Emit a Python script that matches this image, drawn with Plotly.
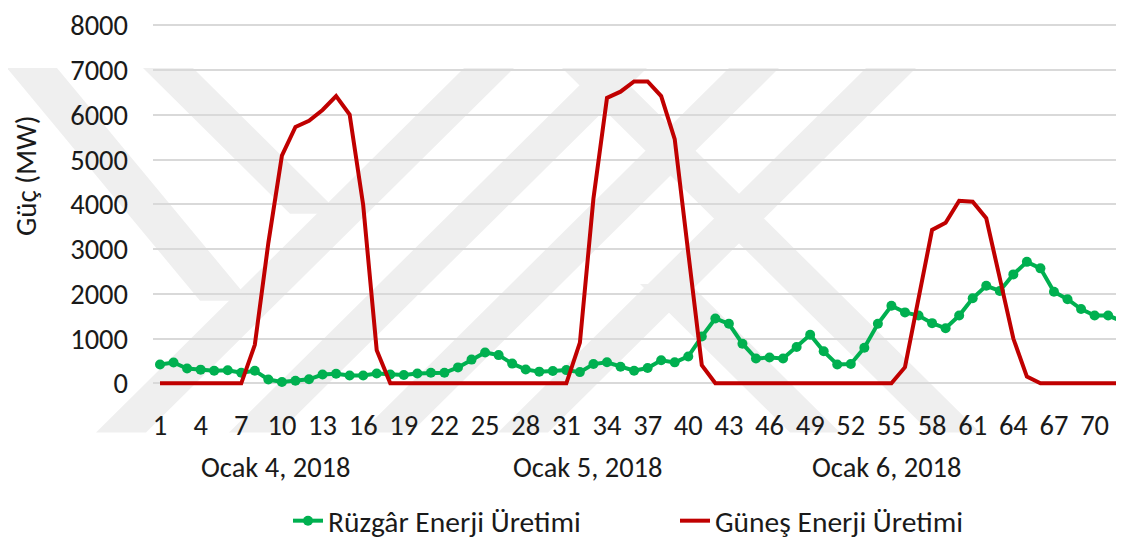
import plotly.graph_objects as go

# ---------------- data ----------------
hours = list(range(1, 73))
wind = [420, 465, 330, 305, 280, 290, 235, 280, 85, 30, 55, 90,
        195, 215, 175, 175, 220, 195, 185, 220, 235, 236, 355, 530,
        690, 630, 440, 310, 260, 275, 295, 250, 430, 470, 370, 280,
        340, 515, 468, 600, 1045, 1450, 1330, 885, 555, 575, 555, 810,
        1085, 715, 420, 430, 795, 1330, 1735, 1585, 1515, 1345, 1230, 1515,
        1900, 2180, 2065, 2435, 2715, 2570, 2045, 1880, 1660, 1515, 1515, 1390]
solar = [0, 0, 0, 0, 0, 0, 0, 860, 3140, 5090, 5730, 5870,
         6110, 6420, 6010, 3985, 740, 0, 0, 0, 0, 0, 0, 0,
         0, 0, 0, 0, 0, 0, 0, 910, 4130, 6380, 6520, 6750,
         6750, 6420, 5460, 2920, 405, 0, 0, 0, 0, 0, 0, 0,
         0, 0, 0, 0, 0, 0, 0, 360, 1900, 3430, 3590, 4080,
         4060, 3690, 2350, 1000, 148, 0, 0, 0, 0, 0, 0, 0]
tick_vals = list(range(1, 73, 3))
tick_text = [str(v) for v in tick_vals]
date_labels = ["Ocak 4, 2018", "Ocak 5, 2018", "Ocak 6, 2018"]
date_centers = [9.6, 32.6, 54.7]
wind_name = "Rüzgâr Enerji Üretimi"
solar_name = "Güneş Enerji Üretimi"
y_title = "Güç (MW)"

# ---------------- geometry (screen pixels; page body has an 8px margin) ----------------
OFF = 8
W, H = 1124 - OFF, 539 - OFF
L_s, R_s = 153, 1124
Y0PX, Y8PX = 383.3, 22.0
ppu = (Y0PX - Y8PX) / 8000.0
YMIN, YMAX = -150, 8100
T_s = Y8PX - (YMAX - 8000) * ppu
B_s = Y0PX + (0 - YMIN) * ppu
PX1, PXSTEP = 160.0, 13.545
XMIN = 1 - (PX1 - L_s) / PXSTEP
XMAX = 72 + (R_s - (PX1 + 71 * PXSTEP)) / PXSTEP

def xp(px):
    return (px - L_s) / (R_s - L_s)

def yp(py):
    return (B_s - py) / (B_s - T_s)

FONT = "Calibri, Carlito, Lato, sans-serif"
FS = 28.5
TXT = "#1a1a1a"

fig = go.Figure()
fig.add_trace(go.Scatter(
    x=hours, y=wind, name=wind_name, mode="lines+markers",
    line=dict(color="#00b050", width=4),
    marker=dict(color="#00b050", size=10),
    cliponaxis=False,
))
fig.add_trace(go.Scatter(
    x=hours, y=solar, name=solar_name, mode="lines",
    line=dict(color="#c00000", width=4),
    cliponaxis=False,
))

# ---------------- watermark (decorative background) ----------------
def band_slash(xtop, ytop=65, ybot=433, w=50, k=1.0):
    return [(xtop, ytop), (xtop + w, ytop), (xtop + w - k * (ybot - ytop), ybot), (xtop - k * (ybot - ytop), ybot)]

def band_back(xa, ya, xb, yb, w=50):
    return [(xa, ya), (xa + w, ya), (xb + w, yb), (xb, yb)]

polys = []
for xt in (464, 597, 729, 866):
    polys.append(band_slash(xt))
polys.append(band_back(7, 65, 200, 300))
polys.append(band_back(143, 65, 290, 212))
polys.append(band_back(562, 65, 930, 433))
polys.append(band_back(640, 283, 790, 433))

shapes = []
for poly in polys:
    path = "M " + " L ".join(f"{xp(a):.5f},{yp(b):.5f}" for a, b in poly) + " Z"
    shapes.append(dict(type="path", path=path, xref="paper", yref="paper",
                       fillcolor="#efefef", line=dict(width=0), layer="below"))

annotations = []
for lab, c in zip(date_labels, date_centers):
    annotations.append(dict(text=lab, x=c, xref="x", y=yp(468), yref="paper",
                            showarrow=False, xanchor="center", yanchor="middle",
                            font=dict(family=FONT, size=FS, color=TXT)))
annotations.append(dict(text=y_title, x=xp(26), xref="paper", y=yp(174), yref="paper",
                        showarrow=False, textangle=-90, xanchor="center", yanchor="middle",
                        font=dict(family=FONT, size=29, color=TXT)))

fig.update_layout(
    width=W, height=H,
    margin=dict(l=L_s - OFF, r=0, t=T_s - OFF, b=(539 - B_s), pad=0),
    paper_bgcolor="white", plot_bgcolor="rgba(0,0,0,0)",
    font=dict(family=FONT, size=FS, color=TXT),
    shapes=shapes, annotations=annotations,
    showlegend=True,
    legend=dict(orientation="h", xref="container", yref="container",
                x=(288 - OFF) / W, xanchor="left", y=1 - (521 - OFF) / H, yanchor="middle",
                font=dict(family=FONT, size=29.5, color=TXT),
                entrywidth=342, bgcolor="rgba(0,0,0,0)"),
    xaxis=dict(range=[XMIN, XMAX], tickmode="array", tickvals=tick_vals, ticktext=tick_text,
               showgrid=False, zeroline=False, showline=False, ticks="",
               ticklabelstandoff=15, tickfont=dict(family=FONT, size=FS, color=TXT)),
    yaxis=dict(range=[YMIN, YMAX], tickmode="array", tickvals=list(range(0, 8001, 1000)),
               showgrid=True, gridcolor="#d9d9d9", gridwidth=2, zeroline=False,
               showline=False, ticks="", ticklabelstandoff=24, ticklabeloverflow="allow",
               tickfont=dict(family=FONT, size=FS, color=TXT)),
)

fig.write_html("out.html")
